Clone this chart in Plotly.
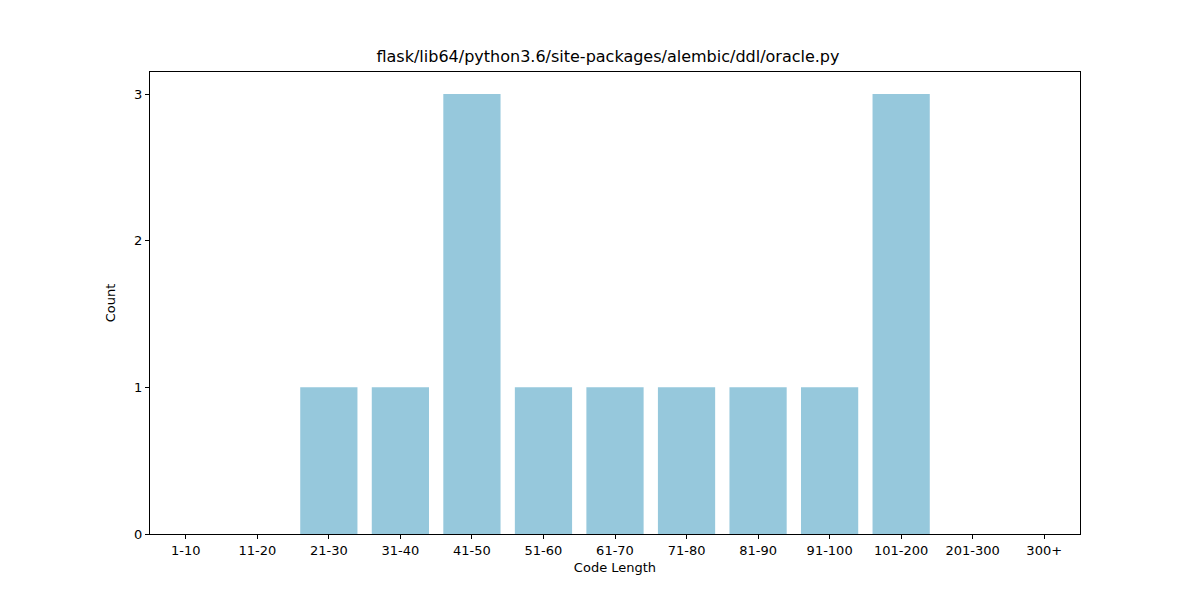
import plotly.graph_objects as go

categories = ["1-10", "11-20", "21-30", "31-40", "41-50", "51-60", "61-70",
              "71-80", "81-90", "91-100", "101-200", "201-300", "300+"]
counts = [0, 0, 1, 1, 3, 1, 1, 1, 1, 1, 3, 0, 0]

fig = go.Figure(go.Bar(x=categories, y=counts, marker_color="#96c8dc",
                       marker_line_width=0, width=0.8))

axis_style = dict(showline=True, linecolor="black", linewidth=1, mirror=True,
                  ticks="outside", ticklen=4, tickcolor="black", showgrid=False,
                  zeroline=False, tickfont=dict(size=13, color="black"))

fig.update_layout(
    title=dict(text="flask/lib64/python3.6/site-packages/alembic/ddl/oracle.py",
               x=0.5, xanchor="center", y=0.91, yanchor="bottom",
               font=dict(size=16, color="black")),
    width=1200, height=600,
    margin=dict(l=142, r=128, t=64, b=74),
    plot_bgcolor="white", paper_bgcolor="white",
    font=dict(family="DejaVu Sans", color="black"),
    showlegend=False,
)
fig.update_xaxes(title=dict(text="Code Length", font=dict(size=13), standoff=6),
                 range=[-0.5, 12.5], **axis_style)
fig.update_yaxes(title=dict(text="Count", font=dict(size=13)),
                 range=[0, 3.15], tickvals=[0, 1, 2, 3], **axis_style)

fig.write_html("out.html")
